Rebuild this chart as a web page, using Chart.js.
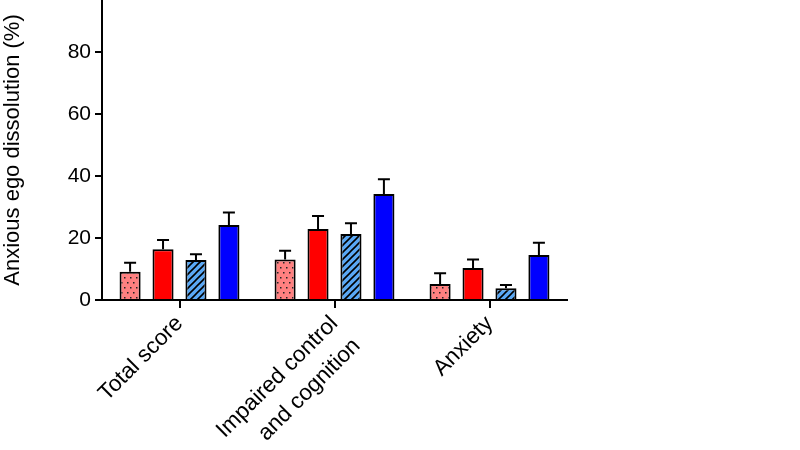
<!DOCTYPE html>
<html>
<head>
<meta charset="utf-8">
<script src="https://cdn.jsdelivr.net/npm/chart.js@4/dist/chart.umd.min.js"></script>
<style>
	html, body { margin: 0; padding: 0; background: #fff; }
	#wrap { width: 800px; height: 450px; position: relative; }
</style>
</head>
<body>
<div id="wrap"><canvas id="chart-ego"></canvas></div>
<script>
// Categories on the x axis
const categories = ['Total score', ['Impaired control', 'and cognition'], 'Anxiety'];
// Series: mean and upper error (SEM)
const dottedMeans = [9.1, 13.1, 5.2];
const dottedErr = [2.9, 2.8, 3.4];
const redMeans = [16.4, 22.9, 10.3];
const redErr = [3.0, 4.2, 2.8];
const hatchedMeans = [12.9, 21.3, 3.8];
const hatchedErr = [1.9, 3.5, 1.0];
const blueMeans = [24.2, 34.2, 14.5];
const blueErr = [4.0, 4.8, 4.0];
// Y tick labels
const yTicks = [0, 20, 40, 60, 80];

// Fill patterns
function dotPattern(bg) {
	let c = document.createElement('canvas');
	c.width = 6; c.height = 10;
	let ctx = c.getContext('2d');
	ctx.fillStyle = bg;
	ctx.fillRect(0, 0, 6, 10);
	ctx.fillStyle = '#222';
	ctx.fillRect(1, 2, 1.5, 1.5);
	ctx.fillRect(4, 7, 1.5, 1.5);
	return ctx.createPattern(c, 'repeat');
}
function hatchPattern(bg) {
	let s = 7;
	let c = document.createElement('canvas');
	c.width = s; c.height = s;
	let ctx = c.getContext('2d');
	ctx.fillStyle = bg;
	ctx.fillRect(0, 0, s, s);
	ctx.strokeStyle = '#000';
	ctx.lineWidth = 1.6;
	ctx.beginPath();
	ctx.moveTo(0, s); ctx.lineTo(s, 0);
	ctx.moveTo(-s / 2, s / 2); ctx.lineTo(s / 2, -s / 2);
	ctx.moveTo(s / 2, s * 1.5); ctx.lineTo(s * 1.5, s / 2);
	ctx.stroke();
	return ctx.createPattern(c, 'repeat');
}

// Upper error bars drawn from the y scale
const errorBars = {
	id: 'errorBars',
	afterDatasetsDraw(chart) {
		const ctx = chart.ctx;
		const y = chart.scales.y;
		ctx.save();
		ctx.strokeStyle = '#000';
		ctx.lineWidth = 2;
		chart.data.datasets.forEach((ds, i) => {
			const meta = chart.getDatasetMeta(i);
			meta.data.forEach((bar, j) => {
				const top = y.getPixelForValue(ds.data[j] + ds.errors[j]);
				ctx.beginPath();
				ctx.moveTo(bar.x, bar.y);
				ctx.lineTo(bar.x, top);
				ctx.moveTo(bar.x - 6, top);
				ctx.lineTo(bar.x + 6, top);
				ctx.stroke();
			});
		});
		ctx.restore();
	}
};

Chart.defaults.font.family = 'Arial, "Liberation Sans", sans-serif';
Chart.defaults.color = '#000';

const barStyle = { borderColor: '#000', borderWidth: 2, categoryPercentage: 0.85, barPercentage: 0.64 };

new Chart(document.getElementById('chart-ego'), {
	type: 'bar',
	data: {
		labels: categories,
		datasets: [
			Object.assign({ data: dottedMeans, errors: dottedErr, backgroundColor: dotPattern('#ff8080') }, barStyle),
			Object.assign({ data: redMeans, errors: redErr, backgroundColor: '#ff0000' }, barStyle),
			Object.assign({ data: hatchedMeans, errors: hatchedErr, backgroundColor: hatchPattern('#5aa8f5') }, barStyle),
			Object.assign({ data: blueMeans, errors: blueErr, backgroundColor: '#0000ff' }, barStyle)
		]
	},
	options: {
		responsive: true,
		maintainAspectRatio: false,
		animation: false,
		layout: { padding: { top: 0, right: 233, bottom: 0, left: 0 } },
		plugins: { legend: { display: false }, tooltip: { enabled: false } },
		scales: {
			x: {
				offset: true,
				border: { color: '#000', width: 2 },
				grid: { offset: false, drawOnChartArea: false, color: '#000', lineWidth: 2, tickLength: 8 },
				ticks: { font: { size: 22.5, lineHeight: 1.4 }, maxRotation: 45, minRotation: 45, padding: 1 },
				afterFit: function (scale) { scale.height = 150; }
			},
			y: {
				min: 0,
				max: 96.8,
				border: { color: '#000', width: 2 },
				grid: { drawOnChartArea: false, color: '#000', lineWidth: 2, tickLength: 7 },
				ticks: { font: { size: 21 }, padding: 4, includeBounds: false, stepSize: 20 },
				afterBuildTicks: function (scale) {
					scale.ticks = yTicks.map(v => ({ value: v }));
				},
				title: { display: true, text: 'Anxious ego dissolution (%)', font: { size: 22 }, padding: 0 },
				afterFit: function (scale) {
					scale.width = 102;
					scale.paddingTop = 0;
					scale.paddingBottom = 0;
				}
			}
		}
	},
	plugins: [errorBars]
});
</script>
</body>
</html>
